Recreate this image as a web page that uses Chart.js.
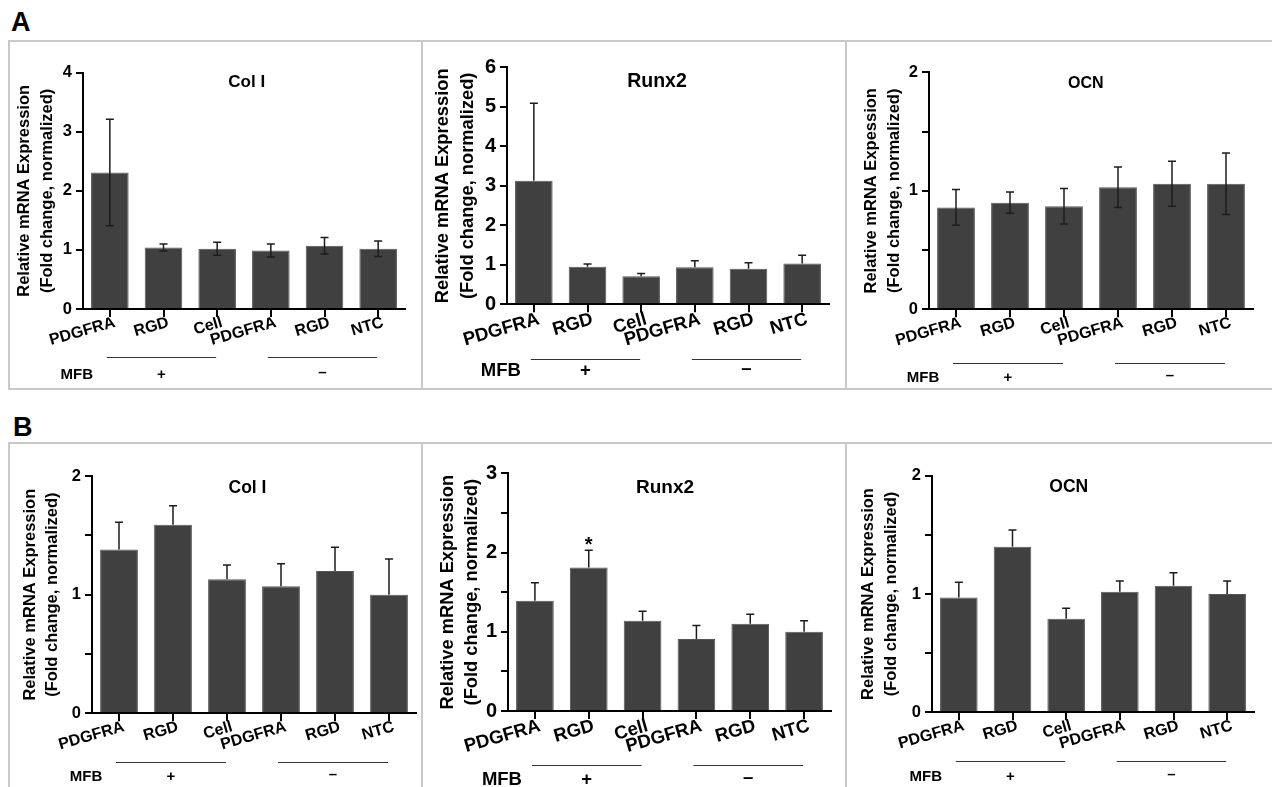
<!DOCTYPE html>
<html>
<head>
<meta charset="utf-8">
<script src="https://cdn.jsdelivr.net/npm/chart.js@4.4.1/dist/chart.umd.min.js"></script>
<style>
  body { margin: 0; background: #fff; width: 1272px; height: 787px; position: relative; overflow: hidden; font-family: 'Liberation Sans', Arial, sans-serif; }
  .box { position: absolute; border: 2px solid #c9c9c9; box-sizing: border-box; }
  .panel { position: absolute; }
  .letter { position: absolute; font-weight: bold; font-size: 27px; line-height: 1; }
</style>
</head>
<body>
<div class="letter" style="left:11px;top:9px">A</div>
<div class="letter" style="left:13px;top:414px">B</div>
<div class="box" style="left:8px;top:40px;width:415px;height:350px"></div>
<div class="box" style="left:421px;top:40px;width:426px;height:350px"></div>
<div class="box" style="left:845px;top:40px;width:440px;height:350px"></div>
<div class="box" style="left:8px;top:442px;width:415px;height:360px"></div>
<div class="box" style="left:421px;top:442px;width:426px;height:360px"></div>
<div class="box" style="left:845px;top:442px;width:440px;height:360px"></div>
<script>
const categories = ['PDGFRA', 'RGD', 'Cell', 'PDGFRA', 'RGD', 'NTC'];
const groupName = 'MFB';
const groupSigns = ['+', '–'];
const yTitle = ['Relative mRNA Expression', '(Fold change, normalized)'];
const yTitleOcnA = ['Relative mRNA Expession', '(Fold change, normalized)'];

// A: mean and error (SD)
const colIA = [2.31, 1.04, 1.02, 0.99, 1.07, 1.02];
const colIAErr = [0.90, 0.06, 0.11, 0.11, 0.14, 0.13];
const runx2A = [3.13, 0.95, 0.71, 0.94, 0.90, 1.03];
const runx2AErr = [1.96, 0.07, 0.07, 0.16, 0.15, 0.21];
const ocnA = [0.86, 0.90, 0.87, 1.03, 1.06, 1.06];
const ocnAErr = [0.15, 0.09, 0.15, 0.17, 0.19, 0.26];

// B
const colIB = [1.38, 1.59, 1.13, 1.07, 1.20, 1.00];
const colIBErr = [0.23, 0.16, 0.12, 0.19, 0.20, 0.30];
const runx2B = [1.39, 1.81, 1.14, 0.91, 1.10, 1.00];
const runx2BErr = [0.23, 0.22, 0.12, 0.17, 0.12, 0.14];
const runx2BSig = ['', '*', '', '', '', ''];
const ocnB = [0.97, 1.40, 0.79, 1.02, 1.07, 1.00];
const ocnBErr = [0.13, 0.14, 0.09, 0.09, 0.11, 0.11];

const small = {tick: 16.5, x: 16, title: 17, yTitle: 16.5, lh: 23, group: 15};
const big = {tick: 20, x: 18.5, title: 19.5, yTitle: 18.3, lh: 25, group: 18.5};

const panels = [
  {title: 'Col I', values: colIA, errs: colIAErr, yMax: 4, step: 1, errBoth: true, yTitle: yTitle, f: small,
   box: [9, 41, 414, 349], plot: [83, 72.7, 405, 309], titlePos: [246.7, 82], yTitleX: 24, lineY: 357, signY: 375},
  {title: 'Runx2', values: runx2A, errs: runx2AErr, yMax: 6, step: 1, errBoth: false, yTitle: yTitle, f: big,
   box: [421, 41, 426, 349], plot: [507, 67.3, 829, 304.3], titlePos: [657, 81.7], yTitleX: 442.5, lineY: 359, signY: 371},
  {title: 'OCN', values: ocnA, errs: ocnAErr, yMax: 2, step: 0.5, errBoth: true, yTitle: yTitleOcnA, f: Object.assign({}, small, {title: 16}),
   box: [845, 41, 427, 349], plot: [929, 72.3, 1253, 309.3], titlePos: [1085.8, 83.3], yTitleX: 871, lineY: 363, signY: 378},
  {title: 'Col I', values: colIB, errs: colIBErr, yMax: 2, step: 0.5, errBoth: false, yTitle: yTitle, f: Object.assign({}, small, {title: 17.5, lh: 22}),
   box: [9, 443, 414, 344], plot: [92, 476, 416, 713.3], titlePos: [247.5, 488.3], yTitleX: 30, lineY: 761.7, signY: 777},
  {title: 'Runx2', values: runx2B, errs: runx2BErr, sig: runx2BSig, yMax: 3, step: 0.5, errBoth: false, yTitle: yTitle, f: Object.assign({}, big, {title: 19, lh: 24}),
   box: [421, 443, 426, 344], plot: [508, 473.3, 831, 711], titlePos: [665, 487.3], yTitleX: 448, lineY: 765, signY: 780},
  {title: 'OCN', values: ocnB, errs: ocnBErr, yMax: 2, step: 0.5, errBoth: false, yTitle: yTitle, f: Object.assign({}, small, {title: 17.5}),
   box: [845, 443, 427, 344], plot: [932, 475.7, 1254, 712.3], titlePos: [1068.8, 487.3], yTitleX: 868, lineY: 761, signY: 777}
];

Chart.defaults.font.family = "'Liberation Sans', Arial, sans-serif";

function decor(p) {
  const [bx, by] = p.box;
  return {
    id: 'decor',
    afterDatasetsDraw(chart) {
      const {ctx, scales: {y}} = chart;
      const meta = chart.getDatasetMeta(0);
      ctx.save();
      ctx.strokeStyle = '#1c1c1c';
      ctx.lineWidth = 1.5;
      meta.data.forEach((bar, i) => {
        const v = p.values[i], e = p.errs[i];
        const top = y.getPixelForValue(v + e);
        const bot = y.getPixelForValue(p.errBoth ? v - e : v);
        ctx.beginPath();
        ctx.moveTo(bar.x, top); ctx.lineTo(bar.x, bot);
        ctx.moveTo(bar.x - 4, top); ctx.lineTo(bar.x + 4, top);
        if (p.errBoth) { ctx.moveTo(bar.x - 4, bot); ctx.lineTo(bar.x + 4, bot); }
        ctx.stroke();
        if (p.sig && p.sig[i]) {
          ctx.fillStyle = '#000';
          ctx.font = 'bold 20px ' + Chart.defaults.font.family;
          ctx.textAlign = 'center';
          ctx.textBaseline = 'alphabetic';
          ctx.fillText(p.sig[i], bar.x, top + 1);
        }
      });
      ctx.restore();
    },
    afterDraw(chart) {
      const {ctx, scales: {x}} = chart;
      ctx.save();
      ctx.fillStyle = '#000';
      ctx.textAlign = 'center';
      ctx.textBaseline = 'middle';
      ctx.font = 'bold ' + p.f.title + 'px ' + Chart.defaults.font.family;
      ctx.fillText(p.title, p.titlePos[0] - bx, p.titlePos[1] - by);
      // group lines under the x labels
      ctx.strokeStyle = '#333';
      ctx.lineWidth = 1;
      const ly = Math.round(p.lineY - by) + 0.5;
      [[0, 2], [3, 5]].forEach(([a, b]) => {
        ctx.beginPath();
        ctx.moveTo(x.getPixelForValue(a) - 3, ly);
        ctx.lineTo(x.getPixelForValue(b) - 1, ly);
        ctx.stroke();
      });
      ctx.font = 'bold ' + p.f.group + 'px ' + Chart.defaults.font.family;
      const sy = p.signY - by;
      ctx.fillText(groupName, x.getPixelForValue(0) - 33, sy);
      ctx.fillText(groupSigns[0], x.getPixelForValue(1) - 2, sy);
      ctx.fillText(groupSigns[1], x.getPixelForValue(4) - 2, sy - 2);
      ctx.restore();
    }
  };
}

panels.forEach(p => {
  const [bx, by, bw, bh] = p.box;
  const [pl, pt, pr, pb] = p.plot;
  const wrap = document.createElement('div');
  wrap.className = 'panel';
  wrap.style.cssText = `left:${bx}px;top:${by}px;width:${bw}px;height:${bh}px`;
  const cv = document.createElement('canvas');
  wrap.appendChild(cv);
  document.body.appendChild(wrap);

  new Chart(cv, {
    type: 'bar',
    data: {
      labels: categories,
      datasets: [{
        data: p.values,
        backgroundColor: '#404040',
        borderColor: '#555',
        borderWidth: 1,
        barPercentage: 0.7,
        categoryPercentage: 1
      }]
    },
    options: {
      responsive: true,
      maintainAspectRatio: false,
      animation: false,
      layout: {padding: {left: 0, top: pt - by, right: bx + bw - pr, bottom: 0}},
      plugins: {legend: {display: false}, tooltip: {enabled: false}},
      scales: {
        x: {
          offset: true,
          grid: {offset: false, drawOnChartArea: false, drawTicks: true, tickLength: 8, color: '#000', lineWidth: 2},
          border: {display: true, color: '#000', width: 2},
          ticks: {color: '#000', font: {size: p.f.x, weight: 'bold'}, minRotation: 16, maxRotation: 16,
                  autoSkip: false, padding: -4, labelOffset: 5},
          afterFit: s => { s.height = by + bh - pb; }
        },
        y: {
          min: 0,
          max: p.yMax,
          ticks: {stepSize: p.step, color: '#000', font: {size: p.f.tick, weight: 'bold'}, padding: 4,
                  callback: v => Number.isInteger(v) ? v : ''},
          grid: {drawOnChartArea: false, drawTicks: true, tickLength: 7, color: '#000', lineWidth: 2},
          border: {display: true, color: '#000', width: 2},
          title: {display: true, text: p.yTitle, color: '#000',
                  font: {size: p.f.yTitle, weight: 'bold', lineHeight: p.f.lh + 'px'},
                  padding: {top: p.yTitleX - bx - p.f.lh / 2, bottom: 0}},
          afterFit: s => { s.width = pl - bx; }
        }
      }
    },
    plugins: [decor(p)]
  });
});
</script>
</body>
</html>
